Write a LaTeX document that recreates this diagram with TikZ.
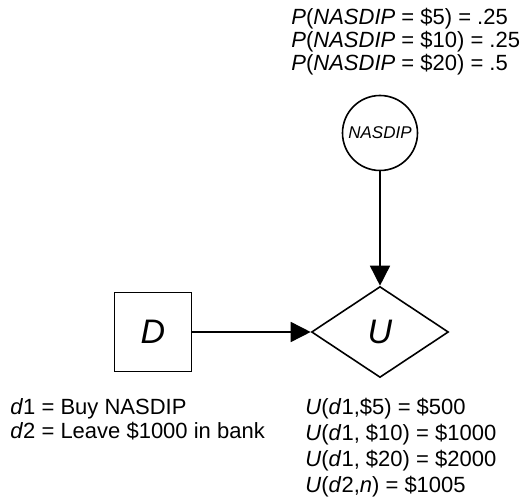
\documentclass[tikz,border=0pt]{standalone}
\usepackage{fontspec}
\setmainfont{Liberation Sans}
\usetikzlibrary{positioning,shapes.geometric,arrows.meta}

\begin{document}
\begin{tikzpicture}[
  x=0.5pt, y=-0.5pt,
  every node/.style={font=\fontsize{11}{12}\selectfont},
  chance/.style={circle, draw, line width=0.8pt, minimum size=37.5pt, inner sep=0pt,
                 font=\fontsize{8.5}{10}\selectfont\itshape},
  decision/.style={rectangle, draw, line width=0.8pt, minimum width=38.5pt,
                   minimum height=39.5pt, font=\fontsize{17}{20}\selectfont\itshape},
  utility/.style={diamond, draw, line width=0.8pt, minimum width=68.5pt,
                  minimum height=45.5pt, inner sep=0pt, font=\fontsize{17}{20}\selectfont\itshape},
  arr/.style={-{Triangle[length=10pt,width=10pt]}, line width=0.8pt},
  note/.style={align=left, inner sep=0pt, anchor=north west}
]
\useasboundingbox (0,0) rectangle (525,497);

% Chance node on top, decision and value nodes on one row.
\node[chance] (N) at (380,133) {NASDIP};
\node[utility] (U) at (380,332) {U};
\node[decision] (D) at (153,332) {D};

% Tables that go with each node.
\node[note, font=\fontsize{11}{11.5}\selectfont] (probs) at (291,8) {\textit{P}(\textit{NASDIP} = \$5) = .25\\
  \textit{P}(\textit{NASDIP} = \$10) = .25\\
  \textit{P}(\textit{NASDIP} = \$20) = .5};
\node[note] (choices) at (10,398) {\textit{d}1 = Buy NASDIP\\
  \textit{d}2 = Leave \$1000 in bank};
\node[note, font=\fontsize{11}{13}\selectfont] (utils) at (305,398) {\textit{U}(\textit{d}1,\$5) = \$500\\
  \textit{U}(\textit{d}1, \$10) = \$1000\\
  \textit{U}(\textit{d}1, \$20) = \$2000\\
  \textit{U}(\textit{d}2,\textit{n}) = \$1005};

\draw[arr] (N) -- (U);
\draw[arr] (D) -- (U);

\end{tikzpicture}
\end{document}
